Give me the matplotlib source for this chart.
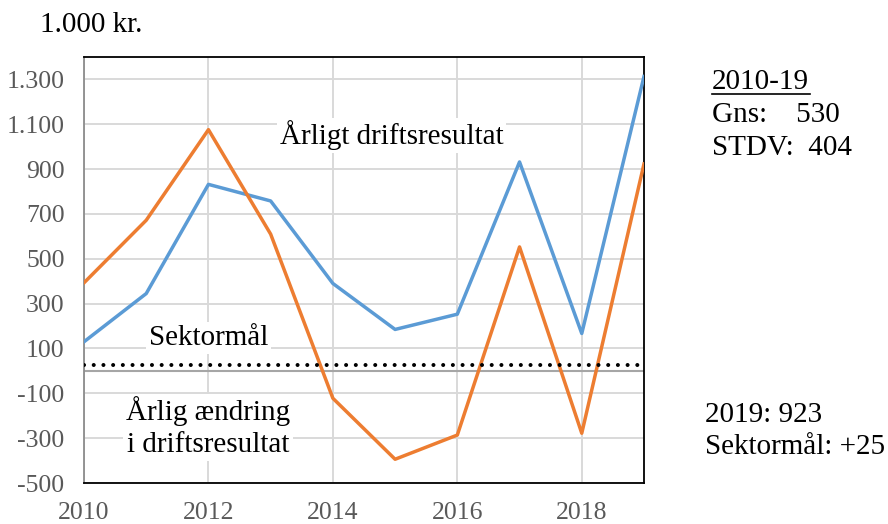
import matplotlib.pyplot as plt
from matplotlib.lines import Line2D
from matplotlib.ticker import FuncFormatter, MultipleLocator

plt.rcParams['font.family'] = ['Liberation Serif', 'DejaVu Serif']

years = [2010, 2011, 2012, 2013, 2014, 2015, 2016, 2017, 2018, 2019]
driftsresultat = [130, 345, 832, 758, 390, 185, 253, 932, 167, 1313]
aendring = [393, 672, 1076, 610, -122, -394, -286, 553, -278, 923]
sektormaal = 25

BLUE = '#5B9BD5'
ORANGE = '#ED7D31'
GREY = '#595959'


def thousands(v, pos):
    return f'{int(v):,}'.replace(',', '.')


fig = plt.figure(figsize=(8.88, 5.24), dpi=100)
ax = fig.add_axes([0.0946, 0.0782, 0.6306, 0.8130])

ax.plot(years, driftsresultat, color=BLUE, lw=2.5, zorder=3)
ax.plot(years, aendring, color=ORANGE, lw=2.5, zorder=3)
ax.axhline(sektormaal, color='black', lw=2.9, dashes=(0.01, 2.4),
           dash_capstyle='round', zorder=4)
ax.axhline(0, color='#a6a6a6', lw=1.5, zorder=2)

ax.set_xlim(2010, 2019)
ax.set_ylim(-500, 1400)
ax.set_yticks(range(-500, 1301, 200))
ax.xaxis.set_major_locator(MultipleLocator(2))
ax.yaxis.set_major_formatter(FuncFormatter(thousands))
ax.grid(True, color='#d9d9d9', lw=1.4, zorder=0)
ax.set_axisbelow(True)
ax.tick_params(length=0, labelsize=18.5, colors=GREY)
ax.tick_params(axis='y', pad=14)
ax.tick_params(axis='x', pad=14)
for side in ['top', 'right', 'bottom']:
    ax.spines[side].set_color('black')
    ax.spines[side].set_linewidth(1.3)
ax.spines['left'].set_color('#8c8c8c')
ax.spines['left'].set_linewidth(1.3)

box = dict(facecolor='white', edgecolor='none', pad=2)
ax.text(2014.94, 1050, 'Årligt driftsresultat', fontsize=21,
        ha='center', va='center', bbox=box, zorder=5)
ax.text(2012.0, 146, 'Sektormål', fontsize=21,
        ha='center', va='center', bbox=box, zorder=5)
ax.text(2012.0, -252, 'Årlig ændring\ni driftsresultat', fontsize=21,
        ha='center', va='center', linespacing=1.3, bbox=box, zorder=5)

fig.text(40 / 888, 1 - 25 / 524, '1.000 kr.', fontsize=21, va='center')

fig.text(712 / 888, 1 - 82 / 524, '2010-19', fontsize=21, va='center')
fig.add_artist(Line2D([712 / 888, 810 / 888], [1 - 94 / 524, 1 - 94 / 524],
                      color='black', lw=1.2))
fig.text(712 / 888, 1 - 115 / 524, 'Gns:    530', fontsize=21, va='center')
fig.text(712 / 888, 1 - 148 / 524, 'STDV:  404', fontsize=21, va='center')
fig.text(705 / 888, 1 - 415 / 524, '2019: 923', fontsize=21, va='center')
fig.text(705 / 888, 1 - 447 / 524, 'Sektormål: +25', fontsize=21, va='center')

fig.savefig('out.png', dpi=100)
